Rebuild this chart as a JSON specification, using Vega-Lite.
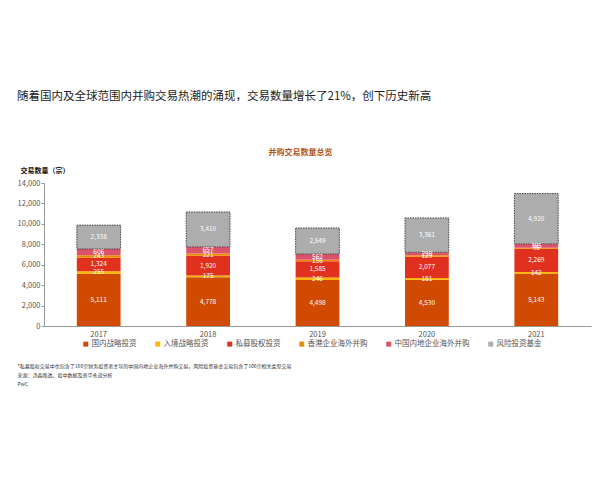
{
  "$schema": "https://vega.github.io/schema/vega-lite/v6.json",
  "width": 547,
  "height": 143,
  "autosize": {"type": "none"},
  "padding": {"left": 44, "top": 183, "right": 9, "bottom": 154},
  "background": "white",
  "config": {"font": "Noto Sans CJK SC", "view": {"stroke": null}},
  "title": {
    "text": "随着国内及全球范围内并购交易热潮的涌现，交易数量增长了21%，创下历史新高",
    "anchor": "start",
    "frame": "group",
    "dx": -27,
    "offset": 46,
    "fontSize": 11.5,
    "fontWeight": "normal",
    "color": "#222"
  },
  "data": {
    "values": [
      {"year": "2017", "type": "国内战略投资", "value": 5111},
      {"year": "2017", "type": "入境战略投资", "value": 255},
      {"year": "2017", "type": "私募股权投资", "value": 1324},
      {"year": "2017", "type": "香港企业海外并购", "value": 243},
      {"year": "2017", "type": "中国内地企业海外并购", "value": 606},
      {"year": "2017", "type": "风险投资基金", "value": 2338},
      {"year": "2018", "type": "国内战略投资", "value": 4778},
      {"year": "2018", "type": "入境战略投资", "value": 175},
      {"year": "2018", "type": "私募股权投资", "value": 1920},
      {"year": "2018", "type": "香港企业海外并购", "value": 221},
      {"year": "2018", "type": "中国内地企业海外并购", "value": 657},
      {"year": "2018", "type": "风险投资基金", "value": 3410},
      {"year": "2019", "type": "国内战略投资", "value": 4498},
      {"year": "2019", "type": "入境战略投资", "value": 246},
      {"year": "2019", "type": "私募股权投资", "value": 1585},
      {"year": "2019", "type": "香港企业海外并购", "value": 156},
      {"year": "2019", "type": "中国内地企业海外并购", "value": 562},
      {"year": "2019", "type": "风险投资基金", "value": 2549},
      {"year": "2020", "type": "国内战略投资", "value": 4530},
      {"year": "2020", "type": "入境战略投资", "value": 181},
      {"year": "2020", "type": "私募股权投资", "value": 2077},
      {"year": "2020", "type": "香港企业海外并购", "value": 129},
      {"year": "2020", "type": "中国内地企业海外并购", "value": 299},
      {"year": "2020", "type": "风险投资基金", "value": 3361},
      {"year": "2021", "type": "国内战略投资", "value": 5143},
      {"year": "2021", "type": "入境战略投资", "value": 142},
      {"year": "2021", "type": "私募股权投资", "value": 2269},
      {"year": "2021", "type": "香港企业海外并购", "value": 96},
      {"year": "2021", "type": "中国内地企业海外并购", "value": 395},
      {"year": "2021", "type": "风险投资基金", "value": 4920}
    ]
  },
  "transform": [
    {"calculate": "indexof(['国内战略投资','入境战略投资','私募股权投资','香港企业海外并购','中国内地企业海外并购','风险投资基金'], datum.type)", "as": "ord"},
    {"stack": "value", "groupby": ["year"], "sort": [{"field": "ord", "order": "ascending"}], "as": ["y0", "y1"]},
    {"calculate": "(datum.y0 + datum.y1) / 2", "as": "ymid"}
  ],
  "layer": [
    {
      "mark": {"type": "bar"},
      "encoding": {
        "x": {
          "field": "year", "type": "nominal",
          "scale": {"paddingInner": 0.6, "paddingOuter": 0.3},
          "axis": {
            "labelAngle": 0, "labelFontSize": 7.5, "labelColor": "#555", "labelPadding": 4,
            "ticks": false, "domainColor": "#999",
            "title": ["*私募股权交易中也包含了166宗财务投资者主导的中国内地企业海外并购交易，风险投资基金交易包含了106宗相关类型交易", "来源：汤森路透、投中数据及普华永道分析", "PwC"],
            "titleAlign": "left", "titleAnchor": "start", "titleX": -27, "titleY": 37,
            "titleBaseline": "top", "titleFontSize": 5, "titleFontWeight": "normal",
            "titleColor": "#333", "titleLineHeight": 9
          }
        },
        "y": {
          "field": "y0", "type": "quantitative",
          "scale": {"domain": [0, 14000], "nice": false},
          "axis": {
            "values": [0, 2000, 4000, 6000, 8000, 10000, 12000, 14000],
            "labelExpr": "datum.value >= 1000 ? floor(datum.value / 1000) + ',000' : '' + datum.value",
            "grid": false, "labelOverlap": false,
            "labelFontSize": 7.5, "labelColor": "#555", "labelPadding": 1,
            "tickSize": 3, "tickColor": "#999", "domainColor": "#999",
            "title": "交易数量（宗）", "titleAngle": 0, "titleAlign": "left",
            "titleBaseline": "middle", "titleX": -24, "titleY": -13,
            "titleFontSize": 7, "titleFontWeight": "bold", "titleColor": "#111"
          }
        },
        "y2": {"field": "y1"},
        "color": {
          "field": "type", "type": "nominal",
          "scale": {
            "domain": ["国内战略投资", "入境战略投资", "私募股权投资", "香港企业海外并购", "中国内地企业海外并购", "风险投资基金"],
            "range": ["#D04A02", "#FFB600", "#E0301E", "#EB8C00", "#DB536A", "#ADADAD"]
          },
          "legend": {
            "orient": "none", "legendX": 38, "legendY": 157,
            "direction": "horizontal", "columns": 6, "title": null,
            "symbolType": "square", "symbolSize": 25,
            "labelFontSize": 7.5, "labelColor": "#555",
            "columnPadding": 17, "labelOffset": 2
          }
        }
      }
    },
    {
      "transform": [{"filter": "datum.type === '风险投资基金'"}],
      "mark": {"type": "bar", "fill": null, "stroke": "#444", "strokeWidth": 1, "strokeDash": [1.5, 1]},
      "encoding": {
        "x": {"field": "year", "type": "nominal", "axis": null},
        "y": {"field": "y0", "type": "quantitative", "scale": {"domain": [0, 14000], "nice": false}, "axis": null},
        "y2": {"field": "y1"}
      }
    },
    {
      "mark": {"type": "text", "color": "white", "fontSize": 6.5, "baseline": "middle"},
      "encoding": {
        "x": {
          "field": "year", "type": "nominal",
          "axis": {
            "orient": "top", "labels": false, "ticks": false, "domain": false,
            "title": "并购交易数量总览", "titleColor": "#B5561E", "titleFontSize": 8,
            "titleFontWeight": "bold", "titleX": 256, "titleY": -31,
            "titleAlign": "center", "titleBaseline": "middle"
          }
        },
        "y": {"field": "ymid", "type": "quantitative", "scale": {"domain": [0, 14000], "nice": false}, "axis": null},
        "text": {"field": "value", "type": "quantitative", "format": ","}
      }
    }
  ],
  "resolve": {"axis": {"x": "independent", "y": "independent"}}
}
